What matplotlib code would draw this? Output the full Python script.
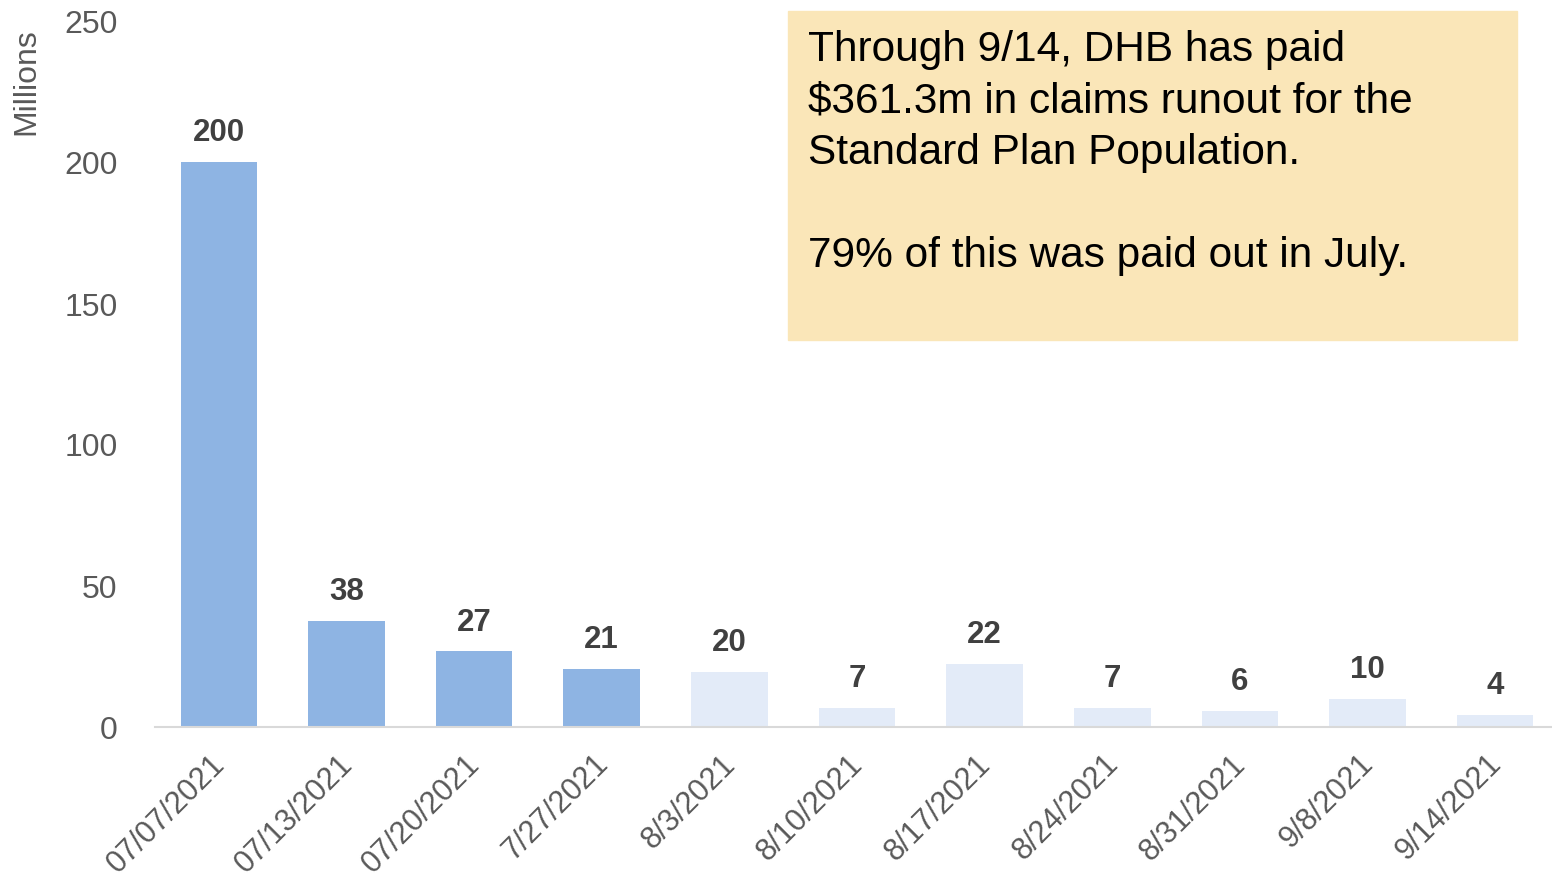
import numpy as np
import matplotlib.pyplot as plt
from matplotlib.transforms import ScaledTranslation

plt.rcParams['font.family'] = ['Liberation Sans', 'DejaVu Sans']

dates = ['07/07/2021', '07/13/2021', '07/20/2021', '7/27/2021', '8/3/2021',
         '8/10/2021', '8/17/2021', '8/24/2021', '8/31/2021', '9/8/2021', '9/14/2021']
paid = [200.5, 37.6, 26.8, 20.7, 19.6, 6.6, 22.4, 6.8, 5.8, 10.0, 4.3]
july = [True, True, True, True, False, False, False, False, False, False, False]

dark = '#8EB4E3'
light = '#E3EBF8'
grey = '#595959'

W, H = 1552, 880
fig = plt.figure(figsize=(W / 100, H / 100), dpi=100)
ax = fig.add_axes([155 / W, (H - 727) / H, 1404 / W, 705 / H])

x = np.arange(len(dates))
cols = [dark if j else light for j in july]
bars = ax.bar(x, paid, width=0.6, color=cols)
ax.bar_label(bars, labels=[f'{v:.0f}' for v in paid], padding=10,
             fontsize=22.5, fontweight='bold', color='#404040')

ax.set_xlim(-0.5, 10.5)
ax.set_ylim(0, 250)
ax.set_yticks([0, 50, 100, 150, 200, 250])
ax.tick_params(axis='y', length=0, labelsize=23, labelcolor=grey, pad=27)
ax.set_xticks(x)
ax.set_xticklabels(dates, rotation=45, ha='right', rotation_mode='anchor')
ax.tick_params(axis='x', length=0, labelsize=22, labelcolor=grey, pad=16)
shift = ScaledTranslation(-9 / 100, 0, fig.dpi_scale_trans)
for lab in ax.get_xticklabels():
    lab.set_transform(lab.get_transform() + shift)
for s in ['top', 'right', 'left']:
    ax.spines[s].set_visible(False)
ax.spines['bottom'].set_color('#D9D9D9')
ax.spines['bottom'].set_linewidth(1.5)

fig.text(26 / W, 1 - 82 / H, 'Millions', rotation=90, fontsize=23,
         color=grey, ha='center', va='center')

# annotation box
fig.patches.append(plt.Rectangle((788 / W, 1 - 340 / H), 729 / W, 329 / H,
                                 transform=fig.transFigure, color='#FAE6B8',
                                 zorder=0))
note = ('Through 9/14, DHB has paid\n$361.3m in claims runout for the\n'
        'Standard Plan Population.\n\n79% of this was paid out in July.')
fig.text(808 / W, 1 - 30 / H, note, fontsize=30.5, color='black',
         ha='left', va='top', linespacing=1.37)

fig.savefig('out.png', dpi=100)
